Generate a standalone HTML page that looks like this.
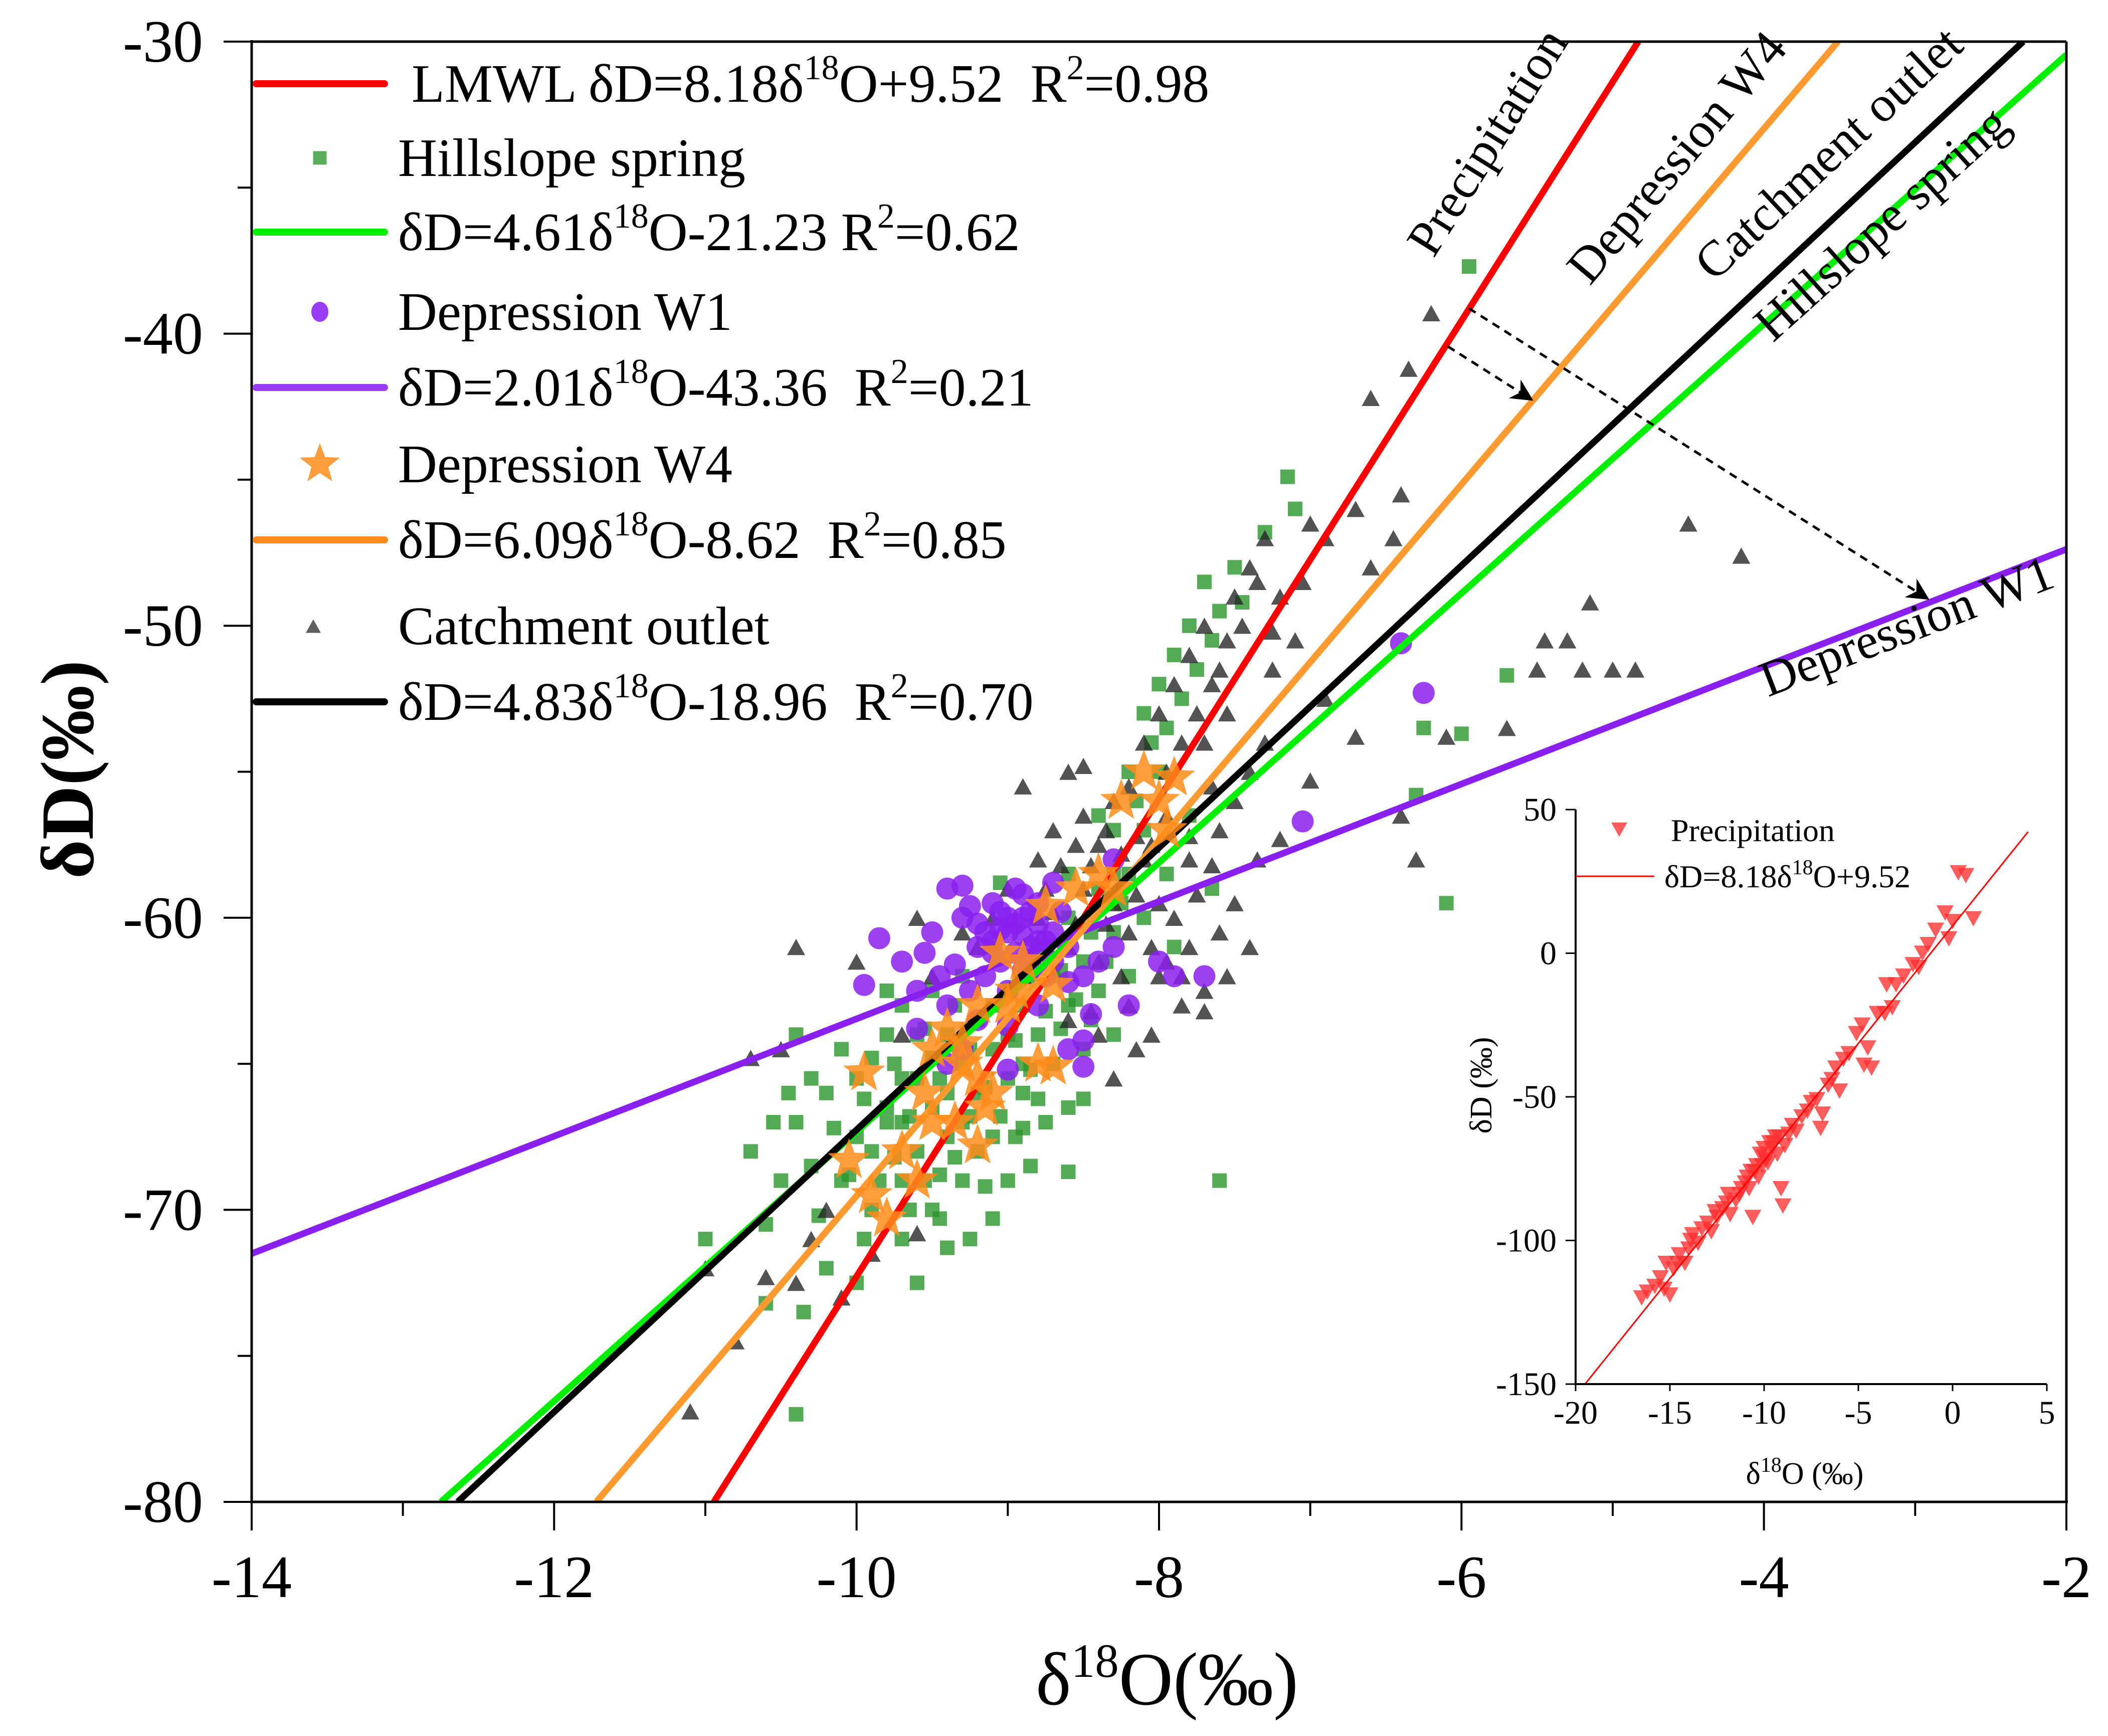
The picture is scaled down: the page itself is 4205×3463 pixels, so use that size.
<!DOCTYPE html>
<html><head><meta charset="utf-8">
<style>
html,body{margin:0;padding:0;background:#fff;}
svg{display:block;font-family:"Liberation Serif","DejaVu Serif",serif;}
text{white-space:pre;}
</style></head>
<body>
<svg id="chart" width="4205" height="3463" viewBox="0 0 4205 3463" xmlns="http://www.w3.org/2000/svg">
<defs>
<clipPath id="plotclip"><rect x="502" y="83" width="3620" height="2913"/></clipPath>
<marker id="arrow" markerWidth="44" markerHeight="44" refX="9" refY="5" orient="auto" markerUnits="userSpaceOnUse" viewBox="0 0 10 10"><path d="M0,0 L10,5 L0,10 L3,5 Z" fill="#000"/></marker>
</defs>
<g id="points" clip-path="url(#plotclip)"></g>
<g id="lines" clip-path="url(#plotclip)"></g>
<g id="stars" clip-path="url(#plotclip)"></g>
<g id="axes"></g>
<g id="legend"></g>
<g id="annot"></g>
<g id="inset"></g>
</svg>
<script>
// ---- main chart data ----
const xTicks = [-14,-12,-10,-8,-6,-4,-2];
const yTicks = [-30,-40,-50,-60,-70,-80];
const slopes = [8.18, 4.61, 2.01, 6.09, 4.83];
const intercepts = [9.52, -21.23, -43.36, -8.62, -18.96];
const lineColors = ['#ff0000','#00ee00','#8a20f0','#ff9a30','#000000'];
const lineNames = ['lmwl-line','hillslope-fit-line','depression-w1-fit-line','depression-w4-fit-line','catchment-fit-line'];

const hillslope = [[-10.4,-67],[-10.3,-68.5],[-10.2,-66],[-10.1,-69],[-10.0,-67.5],[-10.0,-65.5],[-9.9,-70],[-9.9,-68],[-9.8,-66.5],[-9.8,-64],[-9.7,-69],[-9.7,-67],[-9.7,-63],[-9.6,-65.5],[-9.6,-68],[-9.5,-62.5],[-9.5,-66.5],[-9.5,-70],[-9.4,-64],[-9.4,-67.5],[-9.3,-62],[-9.3,-65],[-9.3,-69],[-9.2,-63.5],[-9.2,-66],[-9.1,-61],[-9.1,-64.5],[-9.1,-67.5],[-9.0,-62.5],[-9.0,-65.5],[-8.9,-63],[-8.9,-66],[-8.8,-61],[-8.8,-64],[-8.7,-62],[-8.7,-65],[-8.6,-60],[-8.6,-63],[-8.5,-61.5],[-8.5,-64.5],[-8.4,-59],[-8.4,-62.5],[-8.3,-57],[-8.3,-60.5],[-8.2,-55],[-8.2,-58.5],[-8.1,-53],[-8.1,-57],[-8.0,-52],[-8.0,-55],[-7.9,-51],[-7.8,-50],[-7.7,-48.5],[-7.6,-49.5],[-7.5,-48],[-7.3,-46.8],[-7.15,-44.9],[-7.1,-46],[-5.95,-37.7],[-6.3,-55.8],[-6.25,-53.5],[-6.0,-53.7],[-5.7,-51.7],[-6.1,-59.5],[-7.6,-69],[-8.6,-68.7],[-10.4,-77],[-10.6,-70.5],[-10.7,-68],[-10.55,-67],[-11.0,-71],[-10.2,-72],[-10.0,-72.5],[-9.7,-71],[-9.4,-71.3],[-8.95,-67.5],[-8.6,-66.5],[-8.3,-64],[-7.9,-61],[-7.65,-59],[-7.8,-56.5],[-10.1,-64.5],[-10.4,-64],[-10.6,-73.2],[-9.05,-58.8],[-9.6,-64],[-9.4,-66],[-9.2,-68],[-9.0,-64],[-9.8,-67],[-9.5,-64.8],[-9.3,-67],[-9.1,-63],[-8.9,-65],[-9.7,-65.5],[-9.85,-69],[-9.65,-70],[-9.45,-68.8],[-9.25,-66.8],[-8.85,-62],[-8.65,-63.8],[-8.45,-60.5],[-10.25,-70.2],[-10.5,-69],[-9.15,-69.2],[-8.75,-67],
[-10.15,-67.2],[-10.05,-68.8],[-9.95,-66.2],[-9.9,-64.8],[-9.75,-68.2],[-9.75,-65],[-9.65,-66.8],[-9.55,-69],[-9.55,-63.8],[-9.45,-65.5],[-9.35,-63],[-9.35,-68.2],[-9.25,-64.5],[-9.15,-65.8],[-9.05,-66.8],[-8.95,-64.2],[-8.85,-65.2],[-8.75,-63.2],[-8.65,-61.8],[-8.55,-62.8],[-8.45,-63.5],[-8.35,-61.5],[-8.25,-59.5],[-8.15,-56],[-8.05,-54],[-7.95,-53.5],[-7.85,-52.5],[-7.75,-51.5],[-7.65,-50.5],[-7.45,-49.2],[-8.4,-56.5],[-8.3,-58.5],[-8.6,-58.5],[-9.8,-62.5],[-10.3,-65.5],[-10.45,-66],[-9.95,-71],[-9.45,-70.3],[-9.1,-70.3],[-8.85,-68.5],[-8.5,-66.2],[-8.2,-62],[-8.1,-60],[-7.95,-58.5],[-9.6,-72.5],[-9.25,-71],[-8.9,-67.2],[-10.35,-73.5],[-9.0,-69],[-8.8,-66.2]];
const outlet = [[-9.7,-64],[-9.5,-62],[-9.2,-61],[-9.0,-59],[-8.8,-58],[-8.7,-57],[-8.6,-55],[-8.5,-56.5],[-8.4,-57.5],[-8.3,-56],[-8.2,-55.5],[-8.1,-54],[-8.0,-53],[-7.9,-52],[-7.8,-51],[-7.7,-50],[-7.6,-51.5],[-7.5,-49],[-7.4,-48],[-7.3,-47],[-7.2,-49],[-7.1,-50.5],[-7.0,-46.5],[-6.9,-47],[-6.7,-46],[-6.6,-48],[-6.45,-47],[-6.4,-45.5],[-6.6,-42.2],[-6.35,-41.2],[-6.2,-39.3],[-8.8,-60],[-8.6,-61],[-8.5,-59],[-8.4,-61.5],[-8.3,-59.5],[-8.2,-60.5],[-8.1,-58],[-8.0,-59.5],[-7.9,-60],[-7.8,-61],[-7.7,-62.5],[-7.8,-58],[-7.6,-57],[-7.5,-56],[-7.4,-55],[-7.3,-54],[-8.0,-62],[-8.2,-63],[-8.4,-64],[-8.3,-65.5],[-8.6,-63.5],[-8.9,-62],[-9.1,-60],[-9.3,-60.5],[-10.4,-61],[-10.0,-61.5],[-9.6,-60],[-10.5,-64.5],[-10.7,-64.8],[-10.2,-70],[-10.4,-72.5],[-10.1,-73],[-10.6,-72.3],[-11.0,-72],[-10.3,-71],[-10.8,-74.5],[-11.1,-76.9],[-6.3,-58],[-6.1,-53.8],[-6.4,-56.5],[-5.7,-53.5],[-5.5,-51.5],[-5.45,-50.5],[-5.3,-50.5],[-5.2,-51.5],[-5.15,-49.2],[-5.0,-51.5],[-4.85,-51.5],[-4.5,-46.5],[-4.15,-47.6],[-7.7,-54],[-7.55,-53],[-6.9,-52.5],[-6.7,-53.8],[-7.0,-55.3],[-7.2,-57.3],[-7.35,-58],[-7.5,-59.5],[-7.6,-60.5],[-7.4,-61],[-8.5,-54.8],[-8.9,-55.5],[-7.95,-56.5],[-8.15,-57.2],[-7.65,-55.5],[-7.85,-63],[-8.05,-64],[-9.6,-70.8],[-9.9,-71.5],
[-8.75,-59],[-8.65,-58.2],[-8.55,-57.5],[-8.45,-58.2],[-8.35,-57],[-8.25,-57.8],[-8.15,-59.2],[-8.05,-57.5],[-7.95,-55],[-7.85,-54],[-7.75,-53],[-7.65,-52],[-7.55,-50.5],[-7.45,-50],[-7.35,-48.5],[-7.25,-50.2],[-8.7,-59.8],[-8.55,-60.2],[-8.35,-60.2],[-8.05,-61],[-7.95,-61.5],[-7.75,-59.2],[-7.65,-58.2],[-7.85,-62],[-8.25,-62],[-8.45,-63.2],[-8.15,-64.5],[-7.7,-63.2],[-7.55,-62],[-7.8,-57.2],[-7.25,-51.5],[-7.05,-48.5]];
const depW1 = [[-9.5,-60.5],[-9.4,-59],[-9.3,-60],[-9.2,-61],[-9.1,-59.5],[-9.0,-60.5],[-8.9,-60],[-8.85,-61],[-8.8,-59.5],[-8.95,-59],[-9.05,-61.5],[-9.15,-62],[-8.7,-60.5],[-8.6,-61],[-8.5,-62],[-8.4,-61.5],[-8.3,-61],[-9.6,-62.5],[-9.7,-61.5],[-9.4,-63],[-9.3,-64.5],[-9.2,-63.5],[-9.0,-62.5],[-8.8,-63],[-8.6,-64.5],[-8.5,-64.2],[-8.45,-63.3],[-8.2,-63],[-8.0,-61.5],[-7.9,-62],[-7.7,-62],[-8.3,-58],[-8.7,-58.8],[-9.3,-58.9],[-9.85,-60.7],[-9.95,-62.3],[-7.05,-56.7],[-6.4,-50.6],[-6.25,-52.3],[-8.5,-65.1],[-9.0,-63.7],[-8.9,-61.8],[-9.1,-60.8],[-8.75,-62],[-9.6,-63.8],[-9.4,-65],[-9.0,-65.2],[-8.95,-60.2],[-8.8,-60.8],[-9.05,-59.8],
[-9.0,-60],[-8.9,-60.6],[-8.85,-59.8],[-8.8,-60.2],[-8.75,-60.8],[-9.05,-60.4],[-9.1,-61.2],[-8.95,-61.2],[-9.2,-60.2],[-9.25,-59.6],[-8.65,-59.8],[-8.7,-61.5],[-8.6,-62.2],[-9.35,-61.6],[-9.45,-62],[-9.55,-61.2],[-9.15,-60.5],[-8.85,-61.6],[-9.25,-62.5],[-8.9,-59.2]];
const depW4 = [[-10.05,-68.3],[-9.95,-65.3],[-9.9,-69.5],[-9.8,-70.3],[-9.7,-68],[-9.55,-66],[-9.5,-64.5],[-9.4,-63.8],[-9.3,-64.3],[-9.5,-67],[-9.35,-67],[-9.2,-65.5],[-9.15,-66.5],[-9.1,-66],[-9.2,-67.8],[-9.0,-63],[-9.05,-61.2],[-8.95,-62.5],[-8.8,-65],[-8.7,-62.3],[-8.75,-59.6],[-8.55,-59],[-8.4,-58.5],[-8.3,-59],[-8.25,-56],[-8.1,-55],[-8.0,-56],[-7.95,-57],[-7.9,-55.2],[-9.6,-69],[-8.7,-65.1],[-9.2,-63],[-8.9,-61.5],[-9.3,-65]];

// ---- inset data ----
const insetXTicks = [-20,-15,-10,-5,0,5];
const insetYTicks = [50,0,-50,-100,-150];
const precip = [[-16.5,-120],[-16.2,-118],[-15.8,-116],[-15.5,-113],[-15.3,-117],[-15,-119],[-15.2,-108],[-14.8,-110],[-14.5,-105],[-14.2,-108],[-14,-103],[-13.8,-98],[-13.5,-101],[-13.3,-96],[-13,-94],[-12.8,-97],[-12.5,-92],[-12.2,-89],[-12,-87],[-11.8,-91],[-11.5,-86],[-11.3,-84],[-11,-80],[-10.8,-82],[-10.6,-92],[-10.5,-76],[-10.3,-78],[-10.1,-74],[-10,-71],[-9.8,-73],[-9.6,-68],[-9.5,-66],[-9.3,-70],[-9.2,-64],[-9,-88],[-9.1,-82],[-8.9,-67],[-8.7,-63],[-8.5,-60],[-8.3,-62],[-8,-57],[-7.7,-55],[-7.5,-52],[-7.2,-51],[-7,-61],[-6.9,-56],[-6.6,-46],[-6.4,-44],[-6.2,-40],[-6.0,-48],[-5.8,-37],[-5.5,-35],[-5.1,-28],[-4.8,-25],[-4.7,-39],[-4.3,-40],[-4.5,-33],[-4,-21],[-3.6,-21],[-3.2,-19],[-3.5,-11],[-3,-11],[-2.6,-8],[-2.1,-4],[-1.8,-5],[-1.6,0],[-1.3,3],[-0.9,8],[-0.4,14],[-0.2,5],[0,11],[0.3,28],[0.7,27],[1.1,12],[-11.9,-84],[-12.6,-90],[-10.9,-78],[-10.2,-70],[-9.7,-66],[-10.4,-74],[-10.0,-68],[-9.4,-64],[-9.9,-72],[-10.7,-76],[-11.2,-82],[-13.9,-100],[-14.6,-108]];

const NS='http://www.w3.org/2000/svg';
const X0=502,X1=4122,Y0=83,Y1=2996;
const sx=v=>X0+(v+14)/12*(X1-X0);
const sy=v=>Y0+(-30-v)/50*(Y1-Y0);
const ix=v=>3143+(v+20)/25*(4083-3143);
const iy=v=>1615+(50-v)/200*(2761-1615);
function mk(tag,attrs,parent,text){const e=document.createElementNS(NS,tag);for(const k in attrs)e.setAttribute(k,attrs[k]);if(text!==undefined)e.textContent=text;parent.appendChild(e);return e;}
const gP=document.getElementById('points'),gL=document.getElementById('lines'),gS=document.getElementById('stars'),gA=document.getElementById('axes'),gLeg=document.getElementById('legend'),gN=document.getElementById('annot'),gI=document.getElementById('inset');

function square(x,y,s,parent,fill){return mk('rect',{x:x-s/2,y:y-s/2,width:s,height:s,fill:fill,'fill-opacity':0.8},parent);}
function tri(x,y,s,parent,fill,down){const h=s*0.9;const p=down?`${x-s/2},${y-h/2} ${x+s/2},${y-h/2} ${x},${y+h/2}`:`${x-s/2},${y+h/2} ${x+s/2},${y+h/2} ${x},${y-h/2}`;return mk('polygon',{points:p,fill:fill,'fill-opacity':0.78},parent);}
function star(x,y,r,parent){let p=[];for(let i=0;i<10;i++){const rr=i%2?r*0.42:r;const a=-Math.PI/2+i*Math.PI/5;p.push((x+rr*Math.cos(a)).toFixed(1)+','+(y+rr*Math.sin(a)).toFixed(1));}return mk('polygon',{points:p.join(' '),fill:'#ff8c1a','fill-opacity':0.85},parent);}

hillslope.forEach(d=>{const e=square(sx(d[0]),sy(d[1]),29,gP,'#2a952a');

});
outlet.forEach(d=>{const e=tri(sx(d[0]),sy(d[1]),36,gP,'#222',false);

});
depW1.forEach(d=>{const e=mk('circle',{cx:sx(d[0]),cy:sy(d[1]),r:22,fill:'#8a20f0','fill-opacity':0.85},gP);

});

slopes.forEach((m,i)=>{const b=intercepts[i];let xa=(-80-b)/m,xb=(-30-b)/m;xa=Math.max(xa,-14);xb=Math.min(xb,-2);
const e=mk('line',{x1:sx(xa),y1:sy(m*xa+b),x2:sx(xb),y2:sy(m*xb+b),stroke:lineColors[i],'stroke-width':13},gL);

});

depW4.forEach(d=>{const e=star(sx(d[0]),sy(d[1]),44,gS);

});

mk('line',{x1:X0,y1:Y0,x2:X1,y2:Y0,stroke:'#000','stroke-width':5},gA);
mk('line',{x1:X1,y1:Y0,x2:X1,y2:Y1,stroke:'#000','stroke-width':5},gA);
mk('line',{x1:X0,y1:Y0-3,x2:X0,y2:Y1+3,stroke:'#000','stroke-width':5},gA);
mk('line',{x1:X0-3,y1:Y1,x2:X1+3,y2:Y1,stroke:'#000','stroke-width':5},gA);
for(let v=-14;v<=-2;v++){const maj=(v%2===0);mk('line',{x1:sx(v),y1:Y1,x2:sx(v),y2:Y1+(maj?57:28),stroke:'#000','stroke-width':4},gA);}
for(let v=-30;v>=-80;v-=5){const maj=(v%10===0);mk('line',{x1:X0,y1:sy(v),x2:X0-(maj?56:28),y2:sy(v),stroke:'#000','stroke-width':4},gA);}
xTicks.forEach(v=>{const t=mk('text',{x:sx(v),y:Y1+190,'font-size':120,'text-anchor':'middle'},gA,String(v));

});
yTicks.forEach(v=>{const t=mk('text',{x:405,y:sy(v)+40,'font-size':120,'text-anchor':'end'},gA,String(v));

});
</script>
<script>
(function(){
const yt=mk('text',{x:0,y:0,'font-size':150,'font-weight':'bold','text-anchor':'middle',transform:'translate(185,1535) rotate(-90)'},gA);


yt.innerHTML='δD(‰)';
const xt=mk('text',{x:2328,y:3400,'font-size':150,'text-anchor':'middle'},gA);


xt.innerHTML='δ<tspan dy="-55" font-size="95">18</tspan><tspan dy="55">O(‰)</tspan>';

const rows=[
 {y:167,kind:'line',c:'#ff0000',tx:821,html:'LMWL δD=8.18δ<tspan dy="-45" font-size="70">18</tspan><tspan dy="45">O+9.52  R</tspan><tspan dy="-45" font-size="70">2</tspan><tspan dy="45">=0.98</tspan>',n:'legend-lmwl'},
 {y:315,kind:'sq',tx:794,html:'Hillslope spring',n:'legend-hillslope-spring'},
 {y:463,kind:'line',c:'#00ee00',tx:794,html:'δD=4.61δ<tspan dy="-45" font-size="70">18</tspan><tspan dy="45">O-21.23 R</tspan><tspan dy="-45" font-size="70">2</tspan><tspan dy="45">=0.62</tspan>',n:'legend-hillslope-fit'},
 {y:622,kind:'ci',tx:794,html:'Depression W1',n:'legend-depression-w1'},
 {y:773,kind:'line',c:'#9a3cf5',tx:794,html:'δD=2.01δ<tspan dy="-45" font-size="70">18</tspan><tspan dy="45">O-43.36  R</tspan><tspan dy="-45" font-size="70">2</tspan><tspan dy="45">=0.21</tspan>',n:'legend-depression-w1-fit'},
 {y:926,kind:'st',tx:794,html:'Depression W4',n:'legend-depression-w4'},
 {y:1077,kind:'line',c:'#ff8c1a',tx:794,html:'δD=6.09δ<tspan dy="-45" font-size="70">18</tspan><tspan dy="45">O-8.62  R</tspan><tspan dy="-45" font-size="70">2</tspan><tspan dy="45">=0.85</tspan>',n:'legend-depression-w4-fit'},
 {y:1249,kind:'tr',tx:794,html:'Catchment outlet',n:'legend-catchment-outlet'},
 {y:1400,kind:'line',c:'#000',tx:794,html:'δD=4.83δ<tspan dy="-45" font-size="70">18</tspan><tspan dy="45">O-18.96  R</tspan><tspan dy="-45" font-size="70">2</tspan><tspan dy="45">=0.70</tspan>',n:'legend-catchment-fit'}];
rows.forEach(r=>{
 const g=mk('g',{},gLeg);
 
 
 if(r.kind==='line')mk('line',{x1:511,y1:r.y,x2:767,y2:r.y,stroke:r.c,'stroke-width':14,'stroke-linecap':'round'},g);
 if(r.kind==='sq')square(638,r.y,27,g,'#2f9a2f');
 if(r.kind==='ci')mk('ellipse',{cx:638,cy:r.y,rx:17,ry:20,fill:'#9a3cf5'},g);
 if(r.kind==='st')star(638,r.y,42,g);
 if(r.kind==='tr')tri(625,r.y,30,g,'#333',false);
 const t=mk('text',{x:r.tx,y:r.y+36,'font-size':108},g);t.innerHTML=r.html;
});

const ann=[['Precipitation',2995,300,-58],['Depression W4',3370,335,-50],['Catchment outlet',3670,330,-43],['Hillslope spring',3775,470,-42],['Depression W1',3815,1280,-21]];
ann.forEach(a=>{const t=mk('text',{x:0,y:0,'font-size':100,'text-anchor':'middle',transform:`translate(${a[1]},${a[2]}) rotate(${a[3]})`},gN,a[0]);

});
const a1=mk('line',{x1:2930,y1:615,x2:3845,y2:1194,stroke:'#000','stroke-width':5,'stroke-dasharray':'16,12','marker-end':'url(#arrow)'},gN);


const a2=mk('line',{x1:2888,y1:691,x2:3055,y2:797,stroke:'#000','stroke-width':5,'stroke-dasharray':'16,12','marker-end':'url(#arrow)'},gN);



const ib=mk('rect',{x:3100,y:1570,width:1010,height:1400,fill:'#fff'},gI);


precip.forEach(d=>{const e=tri(ix(d[0]),iy(d[1]),34,gI,'#ff3030',true);

});
const pl=mk('line',{x1:ix(-19.5),y1:iy(8.18*-19.5+9.52),x2:ix(4),y2:iy(8.18*4+9.52),stroke:'#ff0000','stroke-width':3},gI);


mk('line',{x1:3143,y1:1615,x2:3143,y2:2761,stroke:'#000','stroke-width':4},gI);
mk('line',{x1:3143,y1:2761,x2:4083,y2:2761,stroke:'#000','stroke-width':4},gI);
insetXTicks.forEach(v=>{mk('line',{x1:ix(v),y1:2761,x2:ix(v),y2:2775,stroke:'#000','stroke-width':3},gI);
const t=mk('text',{x:ix(v),y:2840,'font-size':66,'text-anchor':'middle'},gI,String(v));

});
insetYTicks.forEach(v=>{mk('line',{x1:3143,y1:iy(v),x2:3123,y2:iy(v),stroke:'#000','stroke-width':3},gI);
const t=mk('text',{x:3105,y:iy(v)+22,'font-size':66,'text-anchor':'end'},gI,String(v));

});
const ixt=mk('text',{x:3600,y:2960,'font-size':62,'text-anchor':'middle'},gI);


ixt.innerHTML='δ<tspan dy="-24" font-size="42">18</tspan><tspan dy="24">O (‰)</tspan>';
const iyt=mk('text',{x:0,y:0,'font-size':62,'text-anchor':'middle',transform:'translate(2975,2165) rotate(-90)'},gI,'δD (‰)');


tri(3230,1655,32,gI,'#ff3030',true);
const il1=mk('text',{x:3333,y:1678,'font-size':64},gI,'Precipitation');


mk('line',{x1:3143,y1:1748,x2:3300,y2:1748,stroke:'#ff0000','stroke-width':3},gI);
const il2=mk('text',{x:3320,y:1770,'font-size':64},gI);


il2.innerHTML='δD=8.18δ<tspan dy="-26" font-size="42">18</tspan><tspan dy="26">O+9.52</tspan>';
})();
</script>
</body></html>
